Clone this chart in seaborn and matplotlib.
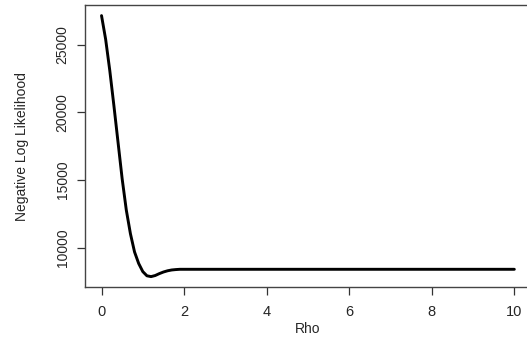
import matplotlib
matplotlib.use("Agg")
import matplotlib.pyplot as plt
import pandas as pd
import seaborn as sns

# values
rho = [0.0, 0.1, 0.2, 0.3, 0.4, 0.5, 0.6, 0.7, 0.8, 0.9, 1.0, 1.1, 1.2,
       1.3, 1.4, 1.5, 1.6, 1.7, 1.8, 1.9, 2.0, 3.0, 4.0, 6.0, 8.0, 10.0]
neg_log_lik = [27150, 25400, 23100, 20500, 17800, 15100, 12800, 11050,
               9700, 8850, 8250, 7940, 7880, 7960, 8100, 8220, 8310, 8370,
               8400, 8420, 8420, 8420, 8420, 8420, 8420, 8420]

x_ticks = [0, 2, 4, 6, 8, 10]
y_ticks = [10000, 15000, 20000, 25000]

df = pd.DataFrame({"Rho": rho, "nll": neg_log_lik})

sns.set_style("ticks")
plt.rcParams["font.family"] = ["Liberation Sans", "DejaVu Sans"]

fig = plt.figure(figsize=(5.27, 3.45), dpi=100)
ax = fig.add_axes([0.1613, 0.168, 0.846, 0.817])

sns.lineplot(data=df, x="Rho", y="nll", color="black", linewidth=2.1, ax=ax)

ax.set_xlim(-0.4, 10.4)
ax.set_ylim(7110, 27920)
ax.set_xticks(x_ticks)
ax.set_yticks(y_ticks)
ax.set_xticklabels([str(t) for t in x_ticks], fontsize=10.5)
ax.set_yticklabels([str(t) for t in y_ticks], fontsize=10, rotation=90, va="center")
ax.tick_params(axis="x", direction="out", length=6, width=0.9, color="#333333", pad=7)
ax.tick_params(axis="y", direction="out", length=6, width=0.9, color="#333333", pad=5)

for spine in ax.spines.values():
    spine.set_color("#444444")
    spine.set_linewidth(1.0)

ax.set_xlabel("Rho", fontsize=10, labelpad=2)
ax.set_ylabel("Negative Log Likelihood", fontsize=10, labelpad=19)

fig.savefig("out.png", dpi=100)
